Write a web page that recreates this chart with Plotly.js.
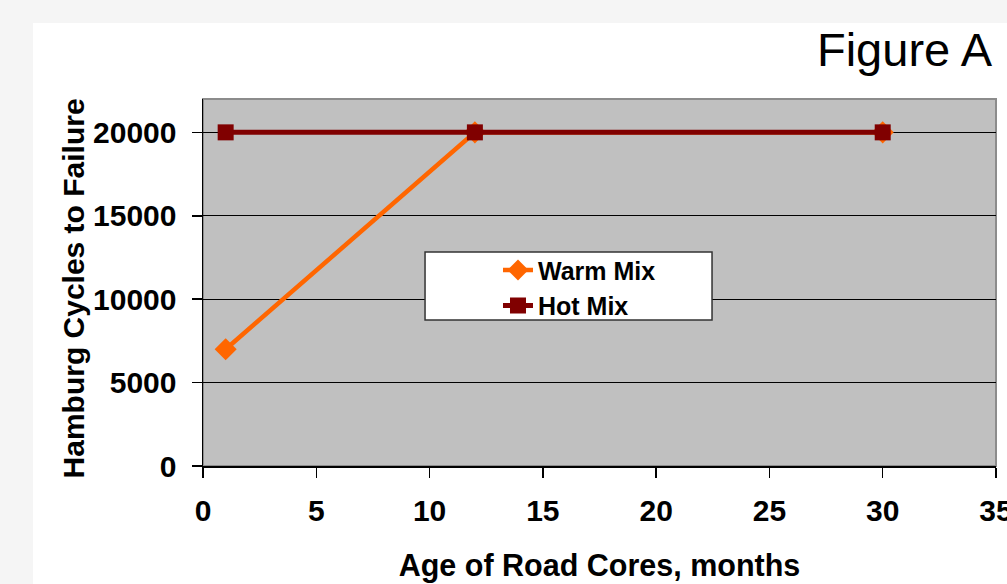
<!DOCTYPE html>
<html>
<head>
<meta charset="utf-8">
<script src="https://cdn.plot.ly/plotly-3.0.1.min.js"></script>
<style>
  html, body { margin: 0; padding: 0; width: 1007px; height: 584px; overflow: hidden; background: #f5f5f5; }
  #chart { position: absolute; left: 33px; top: 23px; width: 974px; height: 561px; background: #ffffff; }
</style>
</head>
<body>
<div id="chart"></div>
<script>
// Age of road cores (months) and Hamburg wheel-tracking cycles to failure
const ageMonths = [1, 12, 30];
const warmMix = [7000, 20000, 20000];
const hotMix = [20000, 20000, 20000];
const seriesNames = ['Warm Mix', 'Hot Mix'];
const yTicks = [0, 5000, 10000, 15000, 20000];
const xTicks = [0, 5, 10, 15, 20, 25, 30, 35];

const FONT = 'Liberation Sans, Arial, Helvetica, sans-serif';

const traces = [
  {
    x: ageMonths, y: warmMix, name: seriesNames[0],
    type: 'scatter', mode: 'lines+markers',
    line: { color: '#ff6600', width: 4.5 },
    marker: { symbol: 'diamond', size: 17, color: '#ff6600' },
    cliponaxis: false
  },
  {
    x: ageMonths, y: hotMix, name: seriesNames[1],
    type: 'scatter', mode: 'lines+markers',
    line: { color: '#800000', width: 5 },
    marker: { symbol: 'square', size: 16, color: '#800000' },
    cliponaxis: false
  }
];

const layout = {
  width: 974, height: 561,
  margin: { l: 170, r: 11, t: 76, b: 118, pad: 0 },
  paper_bgcolor: '#ffffff',
  plot_bgcolor: '#c0c0c0',
  font: { family: FONT, color: '#000000' },
  title: {
    text: 'Figure A',
    font: { family: FONT, size: 47, color: '#000000' },
    xref: 'container', x: 0.9846, xanchor: 'right',
    yref: 'container', y: 0.952, yanchor: 'middle'
  },
  showlegend: true,
  legend: {
    x: 0.372, xanchor: 'left',
    y: 0.596, yanchor: 'top',
    bgcolor: 'rgba(0,0,0,0)', borderwidth: 0,
    font: { family: FONT, size: 25, color: '#000000', weight: 'bold' },
    traceorder: 'normal'
  },
  xaxis: {
    range: [0, 35], tickvals: xTicks, ticktext: xTicks.map(String),
    showline: true, linecolor: '#000000', linewidth: 1.5,
    ticks: 'outside', ticklen: 10, tickwidth: 1.5, tickcolor: '#000000',
    ticklabelstandoff: 7, ticklabeloverflow: 'allow',
    tickfont: { family: FONT, size: 30, color: '#000000', weight: 'bold' },
    showgrid: false, zeroline: false,
    title: { text: 'Age of Road Cores, months', standoff: 29,
             font: { family: FONT, size: 30.5, color: '#000000', weight: 'bold' } }
  },
  yaxis: {
    range: [0, 22000], tickvals: yTicks, ticktext: yTicks.map(String),
    showline: true, linecolor: '#000000', linewidth: 1.5,
    ticks: 'outside', ticklen: 10, tickwidth: 1.5, tickcolor: '#000000',
    ticklabelstandoff: 9,
    tickfont: { family: FONT, size: 30, color: '#000000', weight: 'bold' },
    showgrid: true, gridcolor: '#000000', gridwidth: 1.2,
    zeroline: false
  },
  annotations: [
    { text: 'Hamburg Cycles to Failure', textangle: -90,
      xref: 'paper', yref: 'paper', x: -0.1627, y: 0.4837,
      xanchor: 'center', yanchor: 'middle', showarrow: false,
      font: { family: FONT, size: 30, color: '#000000', weight: 'bold' } }
  ],
  shapes: [
    // grey frame along the top and right of the plotting area
    { type: 'rect', xref: 'paper', yref: 'paper', x0: 0, x1: 1, y0: 0, y1: 1,
      line: { color: '#8c8c8c', width: 2 }, fillcolor: 'rgba(0,0,0,0)', layer: 'below' },
    // legend frame
    { type: 'rect', xref: 'paper', yref: 'paper', x0: 0.2800, x1: 0.6419, y0: 0.3978, y1: 0.5831,
      line: { color: '#333333', width: 1.5 }, fillcolor: '#ffffff', layer: 'above' }
  ]
};

Plotly.newPlot('chart', traces, layout, { displayModeBar: false, staticPlot: true });
</script>
</body>
</html>
